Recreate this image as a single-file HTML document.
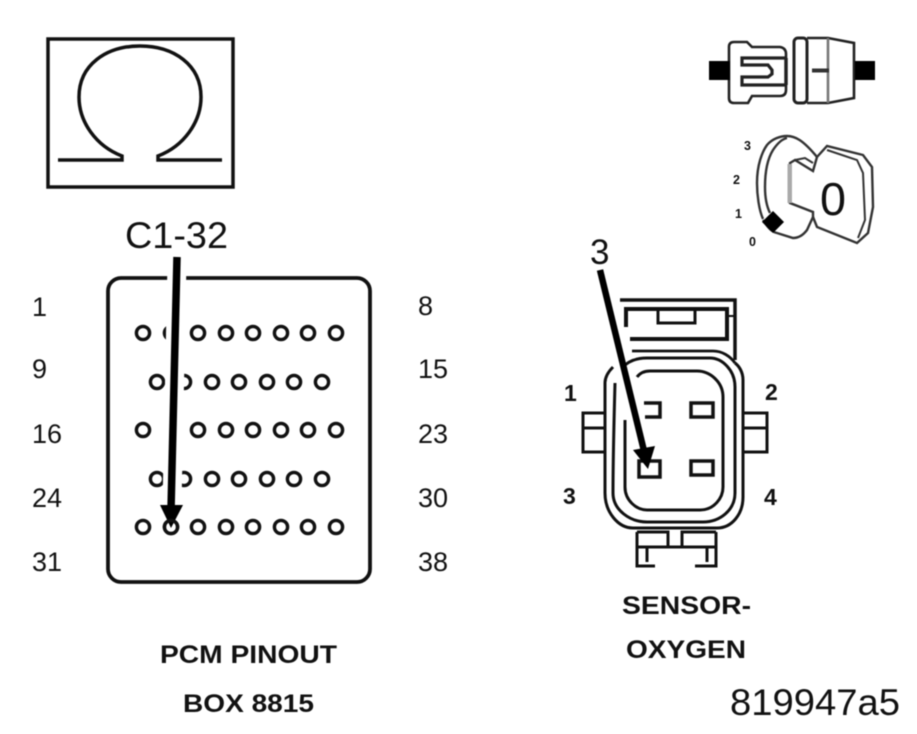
<!DOCTYPE html>
<html><head><meta charset="utf-8"><style>
html,body{margin:0;padding:0;background:#fff}
svg{display:block;filter:blur(.6px)}
text{font-family:"Liberation Sans",sans-serif;fill:#111}
.b{font-weight:bold}
</style></head><body>
<svg width="917" height="734" viewBox="0 0 917 734" xmlns="http://www.w3.org/2000/svg">
<rect width="917" height="734" fill="#fff"/>
<!-- Omega -->
<rect x="48" y="39" width="185" height="148" fill="none" stroke="#111" stroke-width="3.5"/>
<path d="M58 160H122V156C96 146 79 122 79 97C79 65 106 46 140 46C174 46 201 65 201 97C201 122 184 146 158 156V160H222" fill="none" stroke="#111" stroke-width="3.5"/>
<!-- PCM box -->
<rect x="108" y="278" width="262" height="304" rx="13" fill="none" stroke="#111" stroke-width="3.8"/>
<g fill="none" stroke="#111" stroke-width="3.4">
<circle cx="143" cy="333" r="6.6"/><circle cx="171" cy="333" r="6.6"/><circle cx="198" cy="333" r="6.6"/><circle cx="226" cy="333" r="6.6"/><circle cx="253" cy="333" r="6.6"/><circle cx="281" cy="333" r="6.6"/><circle cx="308" cy="333" r="6.6"/><circle cx="336" cy="333" r="6.6"/>
<circle cx="157" cy="382" r="6.6"/><circle cx="184" cy="382" r="6.6"/><circle cx="212" cy="382" r="6.6"/><circle cx="239" cy="382" r="6.6"/><circle cx="267" cy="382" r="6.6"/><circle cx="294" cy="382" r="6.6"/><circle cx="322" cy="382" r="6.6"/>
<circle cx="143" cy="430" r="6.6"/><circle cx="198" cy="430" r="6.6"/><circle cx="226" cy="430" r="6.6"/><circle cx="253" cy="430" r="6.6"/><circle cx="281" cy="430" r="6.6"/><circle cx="308" cy="430" r="6.6"/><circle cx="336" cy="430" r="6.6"/>
<circle cx="157" cy="479" r="6.6"/><circle cx="184" cy="479" r="6.6"/><circle cx="212" cy="479" r="6.6"/><circle cx="239" cy="479" r="6.6"/><circle cx="267" cy="479" r="6.6"/><circle cx="294" cy="479" r="6.6"/><circle cx="322" cy="479" r="6.6"/>
<circle cx="143" cy="527" r="6.6"/><circle cx="171" cy="527" r="6.6"/><circle cx="198" cy="527" r="6.6"/><circle cx="226" cy="527" r="6.6"/><circle cx="253" cy="527" r="6.6"/><circle cx="281" cy="527" r="6.6"/><circle cx="308" cy="527" r="6.6"/><circle cx="336" cy="527" r="6.6"/>
</g>
<line x1="177" y1="262" x2="172" y2="505" stroke="#fff" stroke-width="19"/>
<line x1="177" y1="257" x2="171" y2="510" stroke="#000" stroke-width="7.5"/>
<path d="M160 505H183L171 528Z" fill="#000"/>
<circle cx="171" cy="527" r="6.6" fill="none" stroke="#111" stroke-width="3.4"/>
<!-- PCM labels -->
<text x="125" y="248" font-size="37" textLength="103" lengthAdjust="spacingAndGlyphs">C1-32</text>
<g font-size="27">
<text x="32" y="316">1</text><text x="32" y="378">9</text><text x="32" y="443">16</text><text x="32" y="507">24</text><text x="32" y="571">31</text>
<text x="418" y="315">8</text><text x="418" y="378">15</text><text x="418" y="443">23</text><text x="418" y="507">30</text><text x="418" y="571">38</text>
</g>
<text class="b" x="160" y="663" font-size="25" textLength="177" lengthAdjust="spacingAndGlyphs">PCM PINOUT</text>
<text class="b" x="183" y="712" font-size="25" textLength="131" lengthAdjust="spacingAndGlyphs">BOX 8815</text>
<!-- plug left -->
<g fill="none" stroke="#222">
<path d="M734 42H747L752 47H780Q786 48 786 54V90Q786 96 780 96H752L748 103H734Q729 103 729 98V47Q729 42 734 42Z" stroke-width="2.6"/>
<path d="M786 58H742V65H768L772 70V74L768 77H742V85H786" stroke-width="3.2"/>
<path d="M786 58V85" stroke-width="3.5"/>
<rect x="794" y="38" width="13" height="65" rx="4" stroke-width="3"/>
<path d="M807 38H828L854 43V98L828 103H807" stroke-width="2.6"/>
<path d="M828 38V103" stroke="#777" stroke-width="2.6"/>
</g>
<rect x="709" y="61" width="21" height="19" fill="#000"/>
<rect x="855" y="61" width="20" height="19" fill="#000"/>
<rect x="812" y="68.5" width="17" height="4" fill="#333"/>
<!-- key -->
<g fill="none" stroke="#333" stroke-width="2.4">
<path d="M763 219C759 210 757 195 757 183C757 165 762 152 767 145C772 139 780 136 787 136C795 136 803 140 817 157"/>
<path d="M770 213C766 205 765 195 765 187C765 170 768 158 773 150C777 144 782 139 787 138"/>
<path d="M763 220C768 228 772 232 777 233L793 238C800 238 804 234 807 230L813 217V212L790 203V163L795 160L813 171L817 157"/>
<path d="M795 160L805 158L813 163" stroke-width="2"/>
<path d="M817 157L827 146L863 155L872 167L873 207L868 233L857 243L817 227L813 217"/>
<path d="M827 150L857 160L863 173L865 220L858 238" stroke-width="2"/>
</g>
<rect x="787.5" y="164" width="4.5" height="39" fill="#aaa"/>
<text x="820" y="215" font-size="46" fill="#111" textLength="26" lengthAdjust="spacingAndGlyphs">0</text>
<path d="M773 211L784 222L773 233L762 222Z" fill="#000"/>
<g font-size="12.5" class="b">
<text x="744" y="150">3</text><text x="733" y="184">2</text><text x="735" y="218">1</text><text x="749" y="246">0</text>
</g>
<!-- Oxygen sensor -->
<g fill="none" stroke="#111">
<path d="M620 300H735V360" stroke-width="3.5"/>
<path d="M626 327V309H727V339H630" stroke-width="4"/>
<path d="M658 310V323H695V310" stroke-width="3"/>
<path d="M727 316H735" stroke-width="2"/>
<path d="M632 351H713C722 351 730 356 735 363" stroke-width="2.8"/>
<path d="M613 367C608 372 605 378 605 383V493C605 512 618 528 633 528H717C732 528 743 514 743 497V380C743 372 739 366 735 363" stroke-width="3"/>
<path d="M615 383C614 420 613 460 613 493C613 510 630 522 647 522H703C720 522 735 510 735 493V387C735 370 722 358 710 358H647C636 358 628 361 622 368" stroke-width="3"/>
<path d="M625 420V487C625 500 636 510 647 510H700C714 510 723 498 723 487V397C723 382 710 371 697 371H650C645 371 640 373 637 377" stroke-width="3"/>
<path d="M605 413H583V452H605M583 428H605" stroke-width="3"/>
<path d="M744 413H767V452H744M744 428H767" stroke-width="3"/>
<path d="M644 403H660V417H645" stroke-width="3.5"/>
<rect x="691" y="403" width="22" height="14" stroke-width="3.5"/>
<rect x="639" y="461" width="21" height="16" stroke-width="3.5"/>
<rect x="691" y="461" width="22" height="14" stroke-width="3.5"/>
<path d="M716 532V566H695M637 532V566H655M637 532H668V547M682 547V532H716M637 547H716" stroke-width="3"/>
<path d="M647 547V562M707 547V562" stroke-width="3"/>
</g>
<line x1="600" y1="270" x2="645" y2="455" stroke="#000" stroke-width="6.5"/>
<path d="M633 450L655 446L648 469Z" fill="#000"/>
<text x="590" y="264" font-size="35">3</text>
<g font-size="23" class="b">
<text x="564" y="401">1</text><text x="765" y="400">2</text><text x="563" y="504">3</text><text x="764" y="505">4</text>
</g>
<text class="b" x="622" y="614" font-size="25" textLength="129" lengthAdjust="spacingAndGlyphs">SENSOR-</text>
<text class="b" x="626" y="658" font-size="25" textLength="120" lengthAdjust="spacingAndGlyphs">OXYGEN</text>
<text x="730" y="715" font-size="37" textLength="170" lengthAdjust="spacingAndGlyphs">819947a5</text>
</svg>
</body></html>
